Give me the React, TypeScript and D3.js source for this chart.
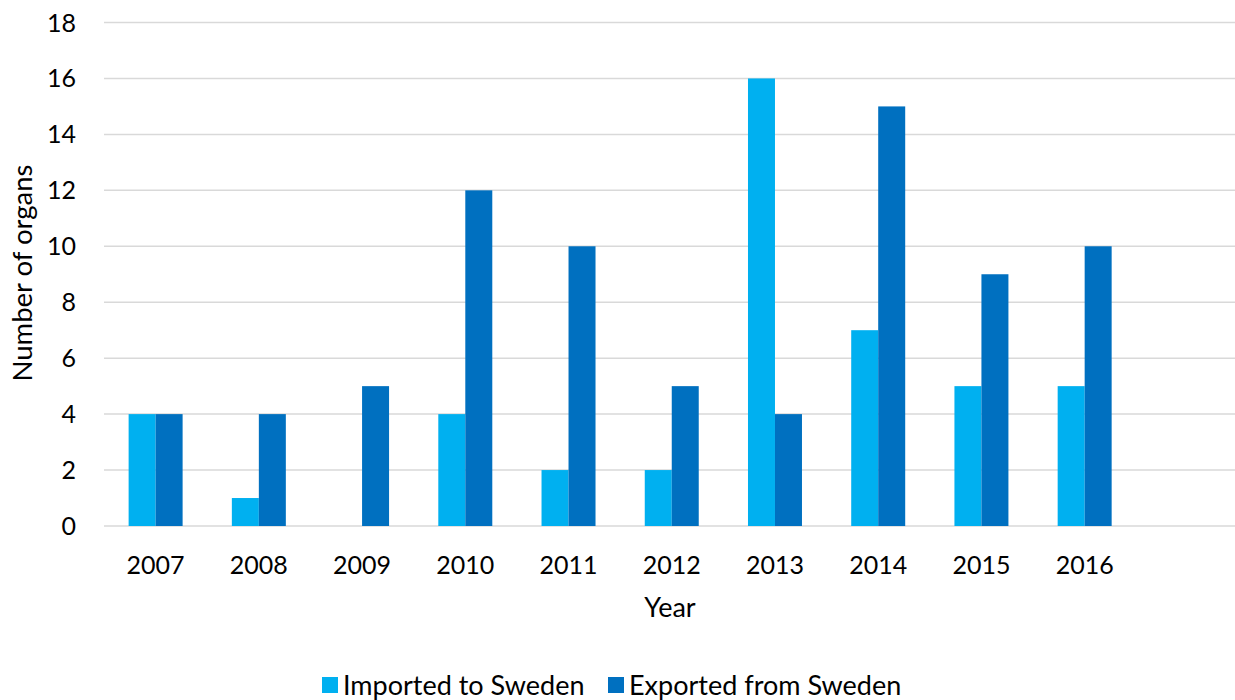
import React from 'react';
import * as d3 from 'd3';

const years = ['2007', '2008', '2009', '2010', '2011', '2012', '2013', '2014', '2015', '2016'];
const imported = [4, 1, 0, 4, 2, 2, 16, 7, 5, 5];
const exported = [4, 4, 5, 12, 10, 5, 4, 15, 9, 10];
const yTicks = [0, 2, 4, 6, 8, 10, 12, 14, 16, 18];
const seriesNames = ['Imported to Sweden', 'Exported from Sweden'];
const colors = ['#00b0f0', '#0070c0'];

const W = 1235;
const H = 700;
const font = 'Lato, "Open Sans", sans-serif';

export default function App() {
  // Excel leaves an empty 11th category slot on the right
  const x = d3.scaleBand<string>()
    .domain([...years, ''])
    .range([104, 1239.5])
    .paddingInner(0.477)
    .paddingOuter(0.2385);
  const inner = d3.scaleBand<string>()
    .domain(['imp', 'exp'])
    .range([0, x.bandwidth()]);
  const y = d3.scaleLinear().domain([0, 18]).range([526, 22.5]);

  return (
    <svg width={W} height={H} style={{ position: 'absolute', left: 0, top: 0, background: '#fff' }}
      fontFamily={font}>
      {/* gridlines */}
      {yTicks.map(t => (
        <line key={t} x1={104} x2={W} y1={y(t)} y2={y(t)} stroke="#d9d9d9" strokeWidth={1.5} />
      ))}
      {/* y tick labels */}
      {yTicks.map(t => (
        <text key={'l' + t} x={76} y={y(t)} dy="0.36em" textAnchor="end" fontSize={25} fill="#000">{t}</text>
      ))}
      {/* bars */}
      {years.map((yr, i) => (
        <g key={yr} transform={`translate(${x(yr)},0)`}>
          <rect x={inner('imp')} y={y(imported[i])} width={inner.bandwidth()}
            height={y(0) - y(imported[i])} fill={colors[0]} />
          <rect x={inner('exp')} y={y(exported[i])} width={inner.bandwidth()}
            height={y(0) - y(exported[i])} fill={colors[1]} />
        </g>
      ))}
      {/* x tick labels */}
      {years.map(yr => (
        <text key={'x' + yr} x={(x(yr) ?? 0) + x.bandwidth() / 2} y={565} dy="0.36em"
          textAnchor="middle" fontSize={25} fill="#000">{yr}</text>
      ))}
      {/* axis titles */}
      <text x={670} y={607} dy="0.36em" textAnchor="middle" fontSize={27} fill="#000">Year</text>
      <text transform={`translate(22,${273}) rotate(-90)`} dy="0.36em" textAnchor="middle"
        fontSize={27.5} fill="#000">Number of organs</text>
      {/* legend */}
      {seriesNames.map((name, i) => {
        const lx = [322, 608][i];
        return (
          <g key={name} transform={`translate(${lx},685)`}>
            <rect x={0} y={-8} width={16} height={16} fill={colors[i]} />
            <text x={21} y={0} dy="0.36em" fontSize={27} fill="#000">{name}</text>
          </g>
        );
      })}
    </svg>
  );
}
